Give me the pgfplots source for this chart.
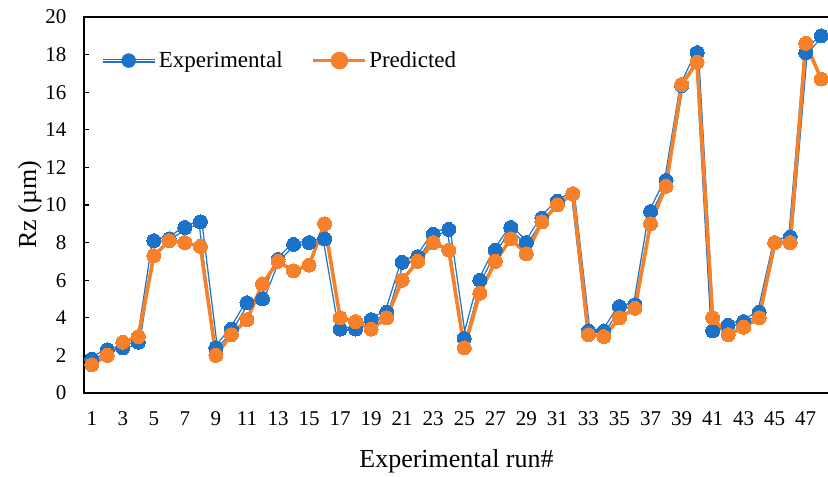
\documentclass[border=0pt]{standalone}
\usepackage{pgfplots}
\pgfplotsset{compat=1.18}
\usepackage{pgfplotstable}
\usepackage{fontspec}
\setmainfont{Liberation Serif}
\definecolor{cblue}{RGB}{26,115,200}
\definecolor{corange}{RGB}{247,128,42}
\pgfplotstableread{
x y
1 1.8
2 2.3
3 2.4
4 2.7
5 8.1
6 8.2
7 8.8
8 9.1
9 2.4
10 3.4
11 4.8
12 5.0
13 7.1
14 7.9
15 8.0
16 8.2
17 3.4
18 3.4
19 3.9
20 4.3
21 6.95
22 7.25
23 8.45
24 8.7
25 2.9
26 6.0
27 7.6
28 8.8
29 8.0
30 9.3
31 10.2
32 10.6
33 3.3
34 3.3
35 4.6
36 4.7
37 9.65
38 11.3
39 16.35
40 18.1
41 3.3
42 3.6
43 3.8
44 4.3
45 8.0
46 8.3
47 18.1
48 19.0
}\exptable
\pgfplotstableread{
x y
1 1.5
2 2.0
3 2.7
4 3.0
5 7.3
6 8.1
7 8.0
8 7.8
9 2.0
10 3.1
11 3.9
12 5.8
13 7.0
14 6.5
15 6.8
16 9.0
17 4.0
18 3.8
19 3.4
20 4.0
21 6.0
22 7.0
23 8.0
24 7.6
25 2.4
26 5.3
27 7.0
28 8.2
29 7.4
30 9.1
31 10.0
32 10.6
33 3.1
34 3.0
35 4.0
36 4.5
37 9.0
38 11.0
39 16.4
40 17.6
41 4.0
42 3.1
43 3.5
44 4.0
45 8.0
46 8.0
47 18.6
48 16.7
}\predtable
\begin{document}
\begin{tikzpicture}[x=1bp,y=1bp]
\begin{axis}[
  at={(0,0)}, anchor=south west,
  scale only axis, width=745bp, height=376bp,
  xmin=0.5, xmax=48.5, ymin=0, ymax=20,
  xtick={1,3,...,47}, ytick={0,2,...,20},
  xtick style={draw=none},
  ytick style={line width=1.2bp, black},
  ytick pos=left, tick align=inside, major tick length=5bp,
  axis line style={line width=1.8bp, black},
  /pgf/number format/assume math mode=true,
  ticklabel style={font=\fontsize{21bp}{25bp}\selectfont},
  yticklabel style={xshift=-14bp},
  xticklabel style={yshift=-15bp},
  xlabel={Experimental run\#},
  ylabel={Rz (µm)},
  label style={font=\fontsize{26bp}{30bp}\selectfont},
  xlabel style={at={(axis description cs:0.5,-0.197)}, anchor=base},
  ylabel style={at={(axis description cs:-0.0725,0.5)}, anchor=center},
  legend columns=2,
  legend style={draw=none, fill=none, at={(axis description cs:0.022,0.884)}, anchor=west,
    font=\fontsize{23bp}{27bp}\selectfont, inner sep=0pt,
    /tikz/every even column/.append style={column sep=27bp}},
  legend cell align=left,
]
\addplot[cblue, line width=1.3bp, double=white, double distance=1.6bp, forget plot] table[x=x,y=y]{\exptable};
\addplot[only marks, mark=*, mark size=7bp, color=cblue, mark options={fill=cblue, draw=cblue, line width=0pt},
  legend image code/.code={\draw[cblue, line width=1.3bp, double=white, double distance=1.6bp] (0bp,0bp) -- (52bp,0bp); \fill[cblue] (26bp,0bp) circle (7bp);}]
  table[x=x,y=y]{\exptable};
\addlegendentry{Experimental}
\addplot[corange, line width=3.6bp, mark=*, mark size=7bp, mark options={fill=corange, draw=corange, line width=0pt},
  legend image code/.code={\draw[corange, line width=3.6bp] (0bp,0bp) -- (52bp,0bp); \fill[corange] (26bp,0bp) circle (7bp);}]
  table[x=x,y=y]{\predtable};
\addlegendentry{Predicted}
\end{axis}
\pgfresetboundingbox
\useasboundingbox (-84,-84) rectangle (744,393);
\end{tikzpicture}
\end{document}
